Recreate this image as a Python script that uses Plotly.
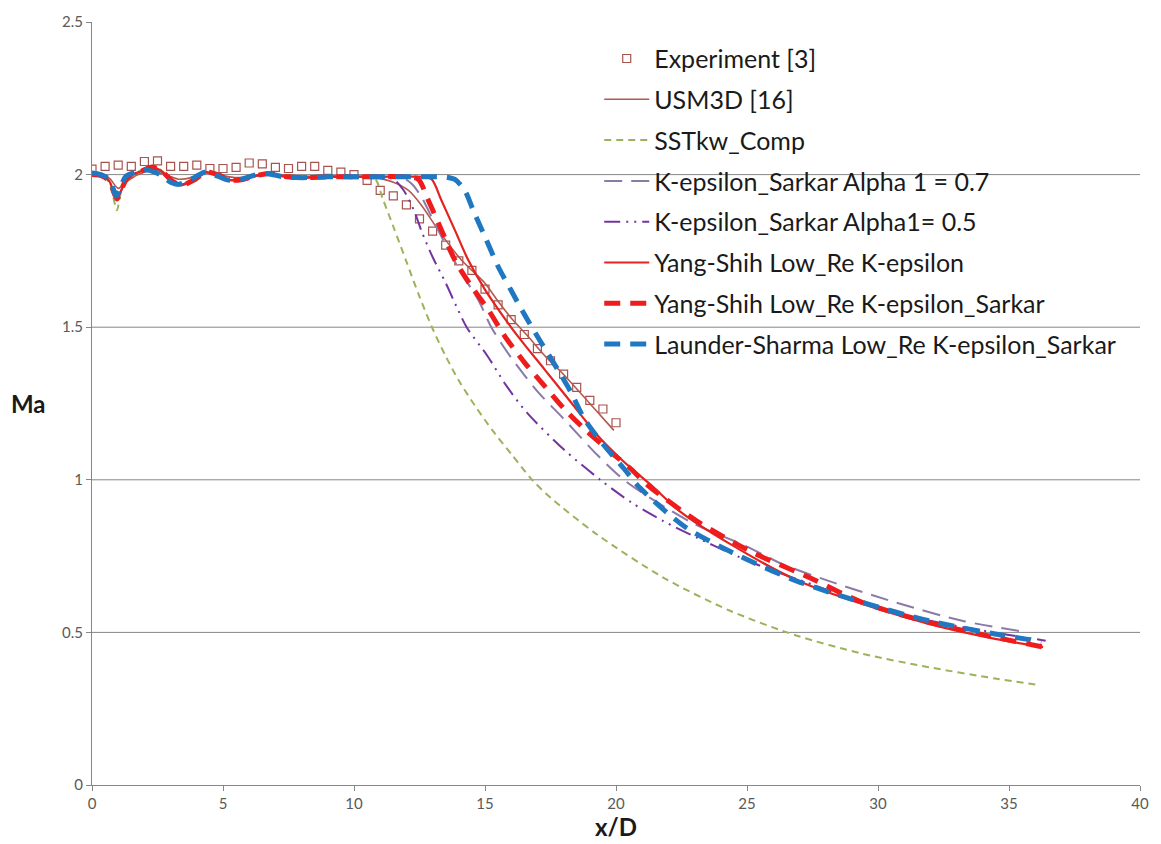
import plotly.graph_objects as go

# ---- measured Mach number along the jet axis ----
exp_x = [0, 0.5, 1.0, 1.5, 2.0, 2.5, 3.0, 3.5, 4.0, 4.5, 5.0, 5.5, 6.0, 6.5, 7.0, 7.5,
         8.0, 8.5, 9.0, 9.5, 10.0, 10.5, 11.0, 11.5, 12.0, 12.5, 13.0, 13.5, 14.0, 14.5,
         15.0, 15.5, 16.0, 16.5, 17.0, 17.5, 18.0, 18.5, 19.0, 19.5, 20.0]
exp_ma = [2.018, 2.027, 2.031, 2.027, 2.043, 2.045, 2.027, 2.027, 2.031, 2.020, 2.020,
          2.024, 2.038, 2.035, 2.024, 2.020, 2.027, 2.027, 2.014, 2.008, 2.000, 1.981,
          1.948, 1.930, 1.901, 1.855, 1.815, 1.769, 1.717, 1.686, 1.625, 1.573, 1.525,
          1.476, 1.430, 1.390, 1.346, 1.303, 1.260, 1.232, 1.187]

# ---- USM3D reference computation ----
usm_x = [0, 0.4, 0.7, 1.0, 1.3, 1.7, 2.2, 2.8, 3.3, 3.8, 4.3, 4.9, 5.5, 6.2, 7.0, 8.0,
         9.0, 10.0, 10.8, 11.5, 12.08, 12.58, 13.22, 14.1, 15.0, 15.5, 16.0, 16.63,
         17.3, 18.0, 19.0, 19.92]
usm_ma = [2.010, 2.003, 1.985, 1.955, 1.975, 1.998, 2.012, 2.000, 1.985, 1.990, 2.005,
          1.998, 1.990, 1.995, 2.000, 1.995, 1.995, 1.995, 1.990, 1.975, 1.948, 1.899,
          1.818, 1.720, 1.644, 1.585, 1.530, 1.471, 1.405, 1.345, 1.250, 1.162]

# ---- SST k-omega (compressible) ----
sst_x = [0, 0.4, 0.65, 0.8, 0.95, 1.1, 1.35, 1.9, 2.4, 2.7, 3.05, 3.4, 3.95, 4.35, 4.85,
         5.25, 5.75, 6.25, 6.75, 7.35, 8.0, 9.0, 10.0, 10.5, 10.82, 11.1, 11.5, 12.0,
         12.5, 13.0, 13.5, 14.0, 14.6, 15.3, 16.0, 16.8, 17.52, 19.29, 21.82, 24.35,
         26.88, 29.41, 31.94, 34.47, 36.18]
sst_ma = [2.000, 1.995, 1.975, 1.930, 1.883, 1.940, 1.990, 2.015, 2.030, 2.010, 1.980,
          1.968, 1.988, 2.008, 1.997, 1.982, 1.985, 1.998, 2.004, 1.993, 1.990, 1.993,
          1.993, 1.993, 1.985, 1.920, 1.830, 1.715, 1.600, 1.495, 1.405, 1.325, 1.245,
          1.160, 1.085, 1.000, 0.940, 0.820, 0.679, 0.571, 0.490, 0.430, 0.386, 0.349,
          0.327]

# ---- k-epsilon with Sarkar correction, alpha1 = 0.7 ----
a07_x = [0, 0.4, 0.65, 0.8, 0.95, 1.1, 1.35, 1.9, 2.3, 2.7, 3.05, 3.4, 3.95, 4.35, 4.85,
         5.25, 5.75, 6.25, 6.75, 7.35, 8.0, 9.0, 10.0, 11.0, 11.8, 12.2, 12.58, 12.96,
         13.47, 14.1, 14.74, 15.24, 16.0, 17.0, 18.0, 19.29, 20.3, 21.5, 23.0, 24.98,
         26.37, 28.14, 30.68, 33.21, 35.73]
a07_ma = [2.000, 1.995, 1.980, 1.950, 1.925, 1.945, 1.990, 2.012, 2.020, 2.006, 1.980,
          1.967, 1.986, 2.006, 1.997, 1.983, 1.985, 1.996, 2.003, 1.994, 1.990, 1.993,
          1.993, 1.993, 1.992, 1.970, 1.926, 1.861, 1.775, 1.677, 1.590, 1.500, 1.400,
          1.290, 1.200, 1.081, 1.000, 0.930, 0.855, 0.782, 0.723, 0.668, 0.598, 0.538,
          0.500]

# ---- k-epsilon with Sarkar correction, alpha1 = 0.5 ----
a05_x = [0, 0.4, 0.65, 0.8, 0.95, 1.1, 1.35, 1.9, 2.3, 2.7, 3.05, 3.4, 3.95, 4.35, 4.85,
         5.25, 5.75, 6.25, 6.75, 7.35, 8.0, 9.0, 10.0, 11.0, 11.5, 11.9, 12.3, 12.6,
         13.0, 13.5, 13.9, 14.3, 15.1, 15.8, 16.6, 18.0, 19.4, 20.6, 21.8, 23.1, 24.35,
         25.6, 26.9, 29.4, 31.9, 34.4, 36.4]
a05_ma = [2.000, 1.995, 1.980, 1.950, 1.925, 1.945, 1.990, 2.012, 2.020, 2.006, 1.980,
          1.967, 1.986, 2.006, 1.997, 1.983, 1.985, 1.996, 2.003, 1.994, 1.990, 1.993,
          1.993, 1.993, 1.985, 1.948, 1.880, 1.810, 1.730, 1.645, 1.570, 1.500, 1.405,
          1.310, 1.220, 1.100, 1.000, 0.925, 0.865, 0.810, 0.760, 0.715, 0.675, 0.600,
          0.540, 0.500, 0.473]

# ---- Yang-Shih low-Re k-epsilon ----
ys_x = [0, 0.4, 0.65, 0.8, 0.95, 1.1, 1.35, 1.9, 2.3, 2.7, 3.05, 3.4, 3.95, 4.35, 4.85,
        5.25, 5.75, 6.25, 6.75, 7.35, 8.0, 9.0, 10.0, 11.0, 12.0, 12.6, 12.96, 13.34,
        13.85, 14.36, 15.0, 15.6, 16.25, 17.27, 18.28, 19.29, 20.3, 21.31, 22.45, 24.35,
        26.88, 29.41, 31.94, 34.47, 36.3]
ys_ma = [2.000, 1.995, 1.980, 1.950, 1.920, 1.945, 1.990, 2.012, 2.025, 2.008, 1.980,
         1.965, 1.985, 2.008, 1.998, 1.982, 1.984, 1.996, 2.004, 1.994, 1.990, 1.993,
         1.993, 1.993, 1.993, 1.993, 1.985, 1.915, 1.818, 1.720, 1.623, 1.547, 1.471,
         1.362, 1.254, 1.146, 1.059, 0.985, 0.896, 0.790, 0.672, 0.593, 0.528, 0.479,
         0.452]

# ---- Yang-Shih low-Re k-epsilon with Sarkar correction ----
yss_x = [0, 0.4, 0.65, 0.8, 0.95, 1.1, 1.35, 1.9, 2.3, 2.7, 3.05, 3.4, 3.95, 4.35, 4.85,
         5.25, 5.75, 6.25, 6.75, 7.35, 8.0, 9.0, 10.0, 11.0, 12.0, 12.45, 12.84, 13.34,
         13.85, 14.48, 15.12, 15.75, 16.51, 17.27, 18.03, 18.79, 19.8, 20.55, 21.2, 23.1,
         25.24, 27.4, 29.41, 31.94, 34.47, 36.3]
yss_ma = [2.000, 1.995, 1.980, 1.950, 1.920, 1.945, 1.990, 2.012, 2.025, 2.008, 1.980,
          1.965, 1.985, 2.008, 1.998, 1.982, 1.984, 1.996, 2.004, 1.994, 1.990, 1.993,
          1.993, 1.993, 1.993, 1.985, 1.915, 1.818, 1.720, 1.634, 1.558, 1.471, 1.384,
          1.308, 1.232, 1.167, 1.091, 1.037, 0.983, 0.864, 0.761, 0.679, 0.598, 0.533,
          0.484, 0.452]

# ---- Launder-Sharma low-Re k-epsilon with Sarkar correction ----
ls_x = [0, 0.4, 0.65, 0.8, 0.92, 1.05, 1.3, 1.8, 2.1, 2.6, 3.0, 3.3, 3.9, 4.3, 4.8, 5.2,
        5.7, 6.2, 6.7, 7.3, 8.0, 9.0, 10.0, 11.0, 12.0, 13.0, 13.5, 13.85, 14.23, 14.55,
        15.0, 15.5, 16.0, 16.55, 17.14, 17.77, 18.28, 18.79, 19.54, 20.3, 20.93, 22.7,
        24.73, 26.88, 29.41, 31.94, 34.47, 36.24]
ls_ma = [2.005, 1.998, 1.985, 1.955, 1.930, 1.950, 1.995, 2.010, 2.015, 2.000, 1.975,
         1.968, 1.990, 2.008, 1.995, 1.982, 1.985, 1.998, 2.003, 1.993, 1.990, 1.993,
         1.993, 1.993, 1.993, 1.993, 1.992, 1.984, 1.948, 1.883, 1.796, 1.699, 1.620,
         1.535, 1.450, 1.362, 1.287, 1.200, 1.113, 1.037, 0.972, 0.842, 0.750, 0.669,
         0.598, 0.538, 0.495, 0.470]

grid_levels = [0.5, 1.0, 1.5, 2.0]
x_ticks = [0, 5, 10, 15, 20, 25, 30, 35, 40]
y_ticks = [0, 0.5, 1, 1.5, 2, 2.5]
y_tick_text = ["0", "0.5", "1", "1.5", "2", "2.5"]

FONT = "Lato, 'Open Sans', sans-serif"
AXIS_GREY = "#868686"

fig = go.Figure()

fig.add_trace(go.Scatter(
    x=exp_x, y=exp_ma, mode="markers", name="Experiment [3]",
    marker=dict(symbol="square-open", size=8, color="#a5554f", line=dict(width=1.2)),
    legendgroup="g1"))

curves = [
    (usm_x, usm_ma, "USM3D [16]", "#b5584f", 1.6, "solid", "g2"),
    (sst_x, sst_ma, "SSTkw_Comp", "#9bb35a", 2.0, "7px,5px", "g3"),
    (a07_x, a07_ma, "K-epsilon_Sarkar Alpha 1 = 0.7", "#8a7aa8", 2.0, "18px,9px", "g4"),
    (a05_x, a05_ma, "K-epsilon_Sarkar Alpha1= 0.5", "#7434a0", 2.0,
     "16px,6px,2px,6px,2px,6px", "g5"),
    (ys_x, ys_ma, "Yang-Shih Low_Re K-epsilon", "#e3231f", 2.2, "solid", "g6"),
    (yss_x, yss_ma, "Yang-Shih Low_Re K-epsilon_Sarkar", "#ee1c1c", 5.0, "16px,10px", "g7"),
    (ls_x, ls_ma, "Launder-Sharma Low_Re K-epsilon_Sarkar", "#1f78c1", 5.0, "16px,10px", "g8"),
]
for xs, ys, name, color, width, dash, grp in curves:
    fig.add_trace(go.Scatter(
        x=xs, y=ys, mode="lines", name=name, legendgroup=grp,
        line=dict(color=color, width=width, dash=dash, shape="spline", smoothing=0.8)))

for level in grid_levels:
    fig.add_shape(type="line", xref="paper", yref="y", x0=0, x1=1, y0=level, y1=level,
                  line=dict(color=AXIS_GREY, width=1), layer="below")

fig.update_layout(
    width=1161, height=844,
    margin=dict(l=92, r=15, t=17, b=59),
    paper_bgcolor="white", plot_bgcolor="white",
    font=dict(family=FONT, color="#595959"),
    showlegend=True,
    legend=dict(
        x=0.484, y=0.982, xanchor="left", yanchor="top",
        bgcolor="rgba(0,0,0,0)", tracegroupgap=5.3, itemwidth=45,
        font=dict(family=FONT, size=25, color="#1a1a1a")),
    xaxis=dict(
        range=[0, 40], tickvals=x_ticks, showgrid=False, zeroline=False,
        showline=True, linecolor=AXIS_GREY, linewidth=1,
        ticks="outside", ticklen=5, tickcolor=AXIS_GREY,
        tickfont=dict(family=FONT, size=15, color="#595959")),
    yaxis=dict(
        range=[0, 2.5], tickvals=y_ticks, ticktext=y_tick_text, showgrid=False,
        zeroline=False, showline=True, linecolor=AXIS_GREY, linewidth=1,
        ticks="outside", ticklen=5, tickcolor=AXIS_GREY,
        tickfont=dict(family=FONT, size=15, color="#595959")),
    annotations=[
        dict(text="<b>x/D</b>", xref="paper", yref="paper", x=0.5, y=-0.055,
             xanchor="center", yanchor="middle", showarrow=False,
             font=dict(family=FONT, size=24, color="#1a1a1a")),
        dict(text="<b>Ma</b>", xref="paper", yref="paper", x=-0.061, y=0.5,
             xanchor="center", yanchor="middle", showarrow=False,
             font=dict(family=FONT, size=24, color="#1a1a1a")),
    ],
)

fig.write_html("out.html")
